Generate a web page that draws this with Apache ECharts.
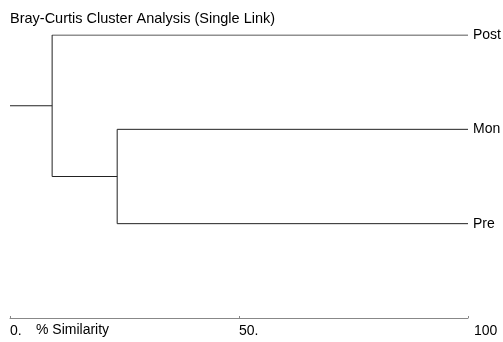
<!DOCTYPE html>
<html>
<head>
<meta charset="utf-8">
<script src="https://cdn.jsdelivr.net/npm/echarts@6/dist/echarts.min.js"></script>
<style>
  html, body { margin: 0; padding: 0; background: #fff; }
  #chart { width: 503px; height: 342px; }
</style>
</head>
<body>
<div id="chart"></div>
<script>
// Samples, top to bottom, and the single-link merges (% similarity)
const leaves = ['Post', 'Mon', 'Pre'];
const merges = [
  { left: 'Mon', right: 'Pre', similarity: 23.4 },
  { left: 'Post', right: 'Mon+Pre', similarity: 9.2 }
];
const axisTicks = [0, 50, 100];
const tickLabels = { 0: '0.', 50: '50.', 100: '100' };

// Leaves sit at 100% similarity; position them on the hidden y scale
const nodes = {};
leaves.forEach((name, i) => {
  nodes[name] = { x: 100, y: leaves.length - i };
});

// Build the bracket segments for each merge
const segments = [];
let rootNode = null;
merges.forEach(m => {
  const a = nodes[m.left], b = nodes[m.right];
  const s = m.similarity;
  segments.push([[s, a.y], [a.x, a.y]]);
  segments.push([[s, b.y], [b.x, b.y]]);
  segments.push([[s, a.y], [s, b.y]]);
  rootNode = { x: s, y: (a.y + b.y) / 2 };
  nodes[m.left + '+' + m.right] = rootNode;
});
// stub leading into the root
segments.push([[0, rootNode.y], [rootNode.x, rootNode.y]]);

const series = segments.map(seg => ({
  type: 'line',
  data: seg,
  symbol: 'none',
  silent: true,
  animation: false,
  lineStyle: { color: '#222', width: 1 }
}));

series.push({
  type: 'scatter',
  data: leaves.map(n => [100, nodes[n].y, n]),
  symbolSize: 0,
  silent: true,
  animation: false,
  itemStyle: { opacity: 1 },
  label: {
    show: true,
    position: 'right',
    distance: 5,
    formatter: p => p.data[2],
    color: '#000',
    fontFamily: 'Liberation Sans, Arial, sans-serif',
    fontSize: 14
  }
});

const chart = echarts.init(document.getElementById('chart'), null, { renderer: 'canvas' });
chart.setOption({
  backgroundColor: '#fff',
  animation: false,
  title: {
    text: 'Bray-Curtis Cluster Analysis (Single Link)',
    left: 5,
    top: 6,
    textStyle: {
      color: '#000',
      fontWeight: 'normal',
      fontFamily: 'Liberation Sans, Arial, sans-serif',
      fontSize: 14.5
    }
  },
  grid: { left: 10, right: 35, top: 35, bottom: 24, containLabel: false },
  xAxis: {
    type: 'value',
    min: 0,
    max: 100,
    interval: 50,
    splitLine: { show: false },
    axisLine: { show: true, lineStyle: { color: '#888', width: 1 } },
    axisTick: { show: true, inside: true, length: 2, lineStyle: { color: '#888' } },
    axisLabel: {
      show: true,
      margin: 6,
      align: 'left',
      color: '#000',
      fontFamily: 'Liberation Sans, Arial, sans-serif',
      fontSize: 14,
      formatter: v => {
        const t = tickLabels[v];
        return v === 100 ? '{last|' + t + '}' : t;
      },
      rich: {
        last: {
          padding: [0, 0, 0, 6],
          fontSize: 14,
          fontFamily: 'Liberation Sans, Arial, sans-serif',
          color: '#000'
        }
      }
    }
  },
  yAxis: {
    type: 'value',
    min: 0,
    max: 3,
    show: false
  },
  graphic: [{
    type: 'text',
    left: 36,
    top: 323,
    style: {
      text: '% Similarity',
      fill: '#000',
      font: '14px "Liberation Sans", Arial, sans-serif'
    }
  }],
  series: series
});
</script>
</body>
</html>
